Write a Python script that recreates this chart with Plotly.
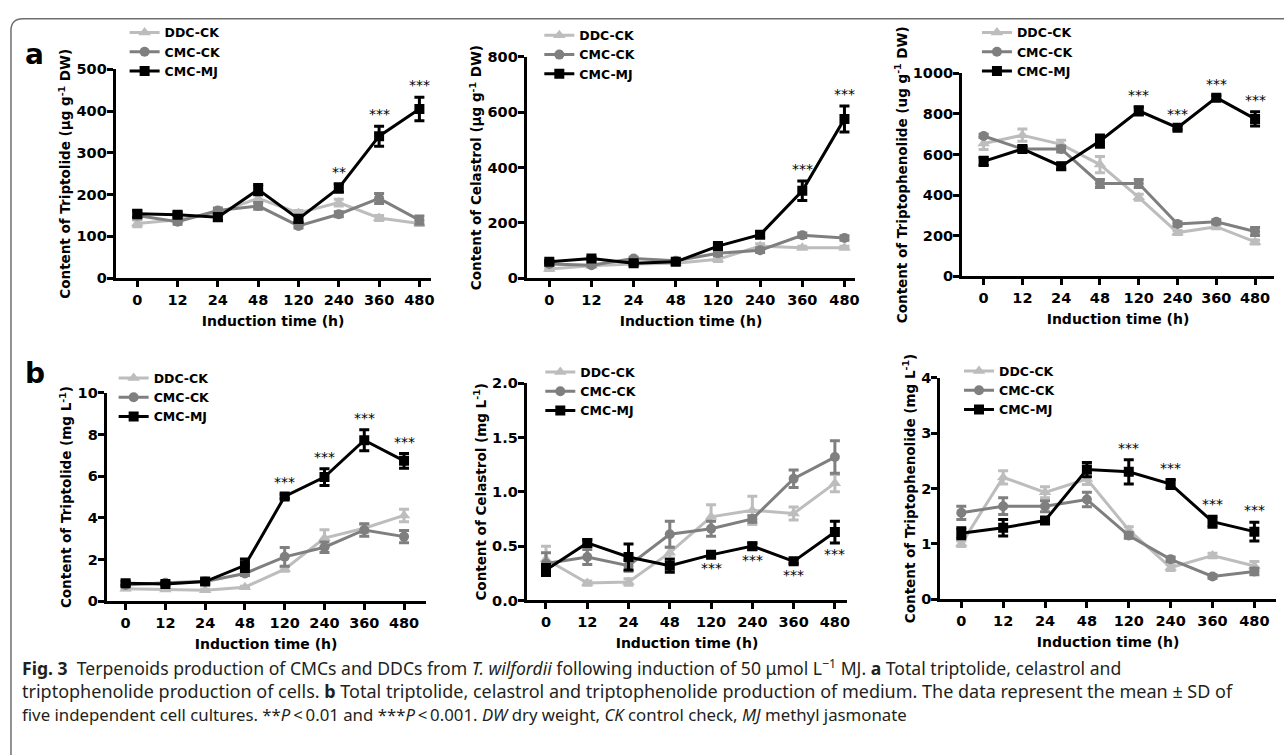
import plotly.graph_objects as go

W, H = 1284, 755

# ---------------- data ----------------
times = ["0", "12", "24", "48", "120", "240", "360", "480"]
series_names = ["DDC-CK", "CMC-CK", "CMC-MJ"]

# (a) cells
a1_ddc = [131, 140, 157, 191, 156, 181, 144, 131]
a1_ddc_sd = [8, 6, 6, 10, 6, 8, 6, 5]
a1_cmc = [150, 135, 162, 173, 125, 153, 191, 139]
a1_cmc_sd = [8, 6, 6, 8, 5, 6, 12, 10]
a1_mj = [154, 152, 146, 212, 142, 216, 340, 405]
a1_mj_sd = [8, 6, 8, 12, 8, 10, 24, 28]
a1_stars = ["", "", "", "", "", "**", "***", "***"]

a2_ddc = [33, 45, 51, 54, 68, 116, 110, 110]
a2_ddc_sd = [5, 5, 5, 5, 8, 8, 5, 5]
a2_cmc = [51, 47, 71, 63, 90, 101, 155, 145]
a2_cmc_sd = [5, 5, 5, 5, 8, 8, 8, 8]
a2_mj = [59, 71, 54, 59, 116, 157, 316, 576]
a2_mj_sd = [5, 5, 5, 5, 8, 10, 35, 47]
a2_stars = ["", "", "", "", "", "", "***", "***"]

a3_ddc = [654, 695, 650, 550, 389, 215, 244, 169]
a3_ddc_sd = [30, 30, 20, 40, 15, 10, 10, 10]
a3_cmc = [691, 627, 627, 457, 457, 257, 268, 220]
a3_cmc_sd = [8, 15, 15, 20, 20, 10, 10, 20]
a3_mj = [566, 627, 542, 666, 815, 732, 880, 775]
a3_mj_sd = [20, 10, 15, 30, 20, 10, 10, 35]
a3_stars = ["", "", "", "", "***", "***", "***", "***"]

# (b) medium
b1_ddc = [0.60, 0.56, 0.52, 0.67, 1.54, 3.03, 3.50, 4.12]
b1_ddc_sd = [0.05, 0.05, 0.05, 0.05, 0.10, 0.40, 0.20, 0.30]
b1_cmc = [0.78, 0.88, 0.94, 1.33, 2.13, 2.59, 3.42, 3.10]
b1_cmc_sd = [0.05, 0.05, 0.10, 0.10, 0.45, 0.25, 0.30, 0.30]
b1_mj = [0.86, 0.83, 0.94, 1.72, 5.03, 5.96, 7.73, 6.74]
b1_mj_sd = [0.10, 0.05, 0.10, 0.30, 0.10, 0.40, 0.50, 0.35]
b1_stars = ["", "", "", "", "***", "***", "***", "***"]

b2_ddc = [0.38, 0.16, 0.17, 0.44, 0.77, 0.83, 0.80, 1.08]
b2_ddc_sd = [0.12, 0.02, 0.03, 0.05, 0.11, 0.13, 0.06, 0.08]
b2_cmc = [0.34, 0.40, 0.32, 0.61, 0.66, 0.75, 1.12, 1.32]
b2_cmc_sd = [0.10, 0.07, 0.05, 0.12, 0.07, 0.03, 0.08, 0.15]
b2_mj = [0.28, 0.53, 0.40, 0.32, 0.42, 0.50, 0.36, 0.63]
b2_mj_sd = [0.05, 0.03, 0.12, 0.06, 0.02, 0.03, 0.02, 0.10]
b2_stars = ["", "", "", "", "***", "***", "***", "***"]

b3_ddc = [1.00, 2.20, 1.93, 2.17, 1.25, 0.57, 0.79, 0.60]
b3_ddc_sd = [0.05, 0.12, 0.10, 0.10, 0.06, 0.05, 0.04, 0.08]
b3_cmc = [1.56, 1.68, 1.68, 1.80, 1.15, 0.72, 0.41, 0.50]
b3_cmc_sd = [0.12, 0.15, 0.10, 0.13, 0.05, 0.04, 0.03, 0.06]
b3_mj = [1.19, 1.29, 1.42, 2.34, 2.30, 2.08, 1.40, 1.22]
b3_mj_sd = [0.10, 0.15, 0.05, 0.13, 0.22, 0.08, 0.10, 0.17]
b3_stars = ["", "", "", "", "***", "***", "***", "***"]

y_titles = [
    "Content of Triptolide (μg g<sup>-1</sup> DW)",
    "Content of Celastrol (μg g<sup>-1</sup> DW)",
    "Content of Triptophenolide (ug g<sup>-1</sup> DW)",
    "Content of Triptolide (mg L<sup>-1</sup>)",
    "Content of Celastrol (mg L<sup>-1</sup>)",
    "Content of Triptophenolide (mg L<sup>-1</sup>)",
]
x_title = "Induction time (h)"

# ---------------- styles ----------------
colors = ["#bdbdbd", "#7f7f7f", "#000000"]
symbols = ["triangle-up", "circle", "square"]
FONT = "DejaVu Sans"

# panel geometry (pixels): axis left, axis right, first tick x, tick spacing, bottom y, top y, ymax, dtick
geom = [
    dict(L=116, R=432, t0=137.7, sp=40.43, yb=276, yt=62.7, ymax=500, dt=100, fmt="d", stars_below=False, leg=(125, 10)),
    dict(L=528.3, R=858, t0=551, sp=42.3, yb=276, yt=50, ymax=800, dt=200, fmt="d", stars_below=False, leg=(541, 13)),
    dict(L=965, R=1278, t0=986.7, sp=38.9, yb=274, yt=66.7, ymax=1000, dt=200, fmt="d", stars_below=False, leg=(980, 10)),
    dict(L=107, R=427, t0=126, sp=39.9, yb=606, yt=393.3, ymax=10, dt=2, fmt="d", stars_below=False, leg=(114, 363)),
    dict(L=528.3, R=850, t0=547.7, sp=41.4, yb=605.3, yt=383.3, ymax=2.0, dt=0.5, fmt=".1f", stars_below=True, leg=(542, 357)),
    dict(L=943.3, R=1280, t0=964.3, sp=42, yb=604, yt=377.7, ymax=4, dt=1, fmt="d", stars_below=False, leg=(962, 356)),
]

panel_data = [
    ([a1_ddc, a1_cmc, a1_mj], [a1_ddc_sd, a1_cmc_sd, a1_mj_sd], a1_stars),
    ([a2_ddc, a2_cmc, a2_mj], [a2_ddc_sd, a2_cmc_sd, a2_mj_sd], a2_stars),
    ([a3_ddc, a3_cmc, a3_mj], [a3_ddc_sd, a3_cmc_sd, a3_mj_sd], a3_stars),
    ([b1_ddc, b1_cmc, b1_mj], [b1_ddc_sd, b1_cmc_sd, b1_mj_sd], b1_stars),
    ([b2_ddc, b2_cmc, b2_mj], [b2_ddc_sd, b2_cmc_sd, b2_mj_sd], b2_stars),
    ([b3_ddc, b3_cmc, b3_mj], [b3_ddc_sd, b3_cmc_sd, b3_mj_sd], b3_stars),
]

fig = go.Figure()
layout = dict(
    width=W, height=H,
    margin=dict(l=0, r=0, t=0, b=0),
    paper_bgcolor="white", plot_bgcolor="white",
    font=dict(family=FONT, size=13, color="black", weight=700),
    annotations=[], shapes=[],
)

for i, (g, (vals, sds, stars)) in enumerate(zip(geom, panel_data)):
    k = i + 1
    xa = "x" if k == 1 else f"x{k}"
    ya = "y" if k == 1 else f"y{k}"
    leg = "legend" if k == 1 else f"legend{k}"
    for j in range(3):
        fig.add_trace(go.Scatter(
            x=times, y=vals[j], name=series_names[j],
            mode="lines+markers",
            line=dict(color=colors[j], width=3),
            marker=dict(symbol=symbols[j], size=10 if j else 11, color=colors[j]),
            error_y=dict(type="data", array=sds[j], color=colors[j], thickness=3, width=5),
            xaxis=xa, yaxis=ya, legend=leg, showlegend=True,
        ))
    xr = [(g["L"] - g["t0"]) / g["sp"], (g["R"] - g["t0"]) / g["sp"]]
    layout["xaxis" if k == 1 else f"xaxis{k}"] = dict(
        domain=[g["L"] / W, g["R"] / W], anchor=ya, type="category",
        categoryorder="array", categoryarray=times,
        range=xr, showline=True, linewidth=3, linecolor="black",
        ticks="outside", ticklen=6, tickwidth=3, tickcolor="black",
        showgrid=False, zeroline=False,
        tickfont=dict(family=FONT, size=14.5, weight=700),
        title=dict(text=x_title, font=dict(family=FONT, size=14, weight=700), standoff=10),
    )
    layout["yaxis" if k == 1 else f"yaxis{k}"] = dict(
        domain=[1 - g["yb"] / H, 1 - g["yt"] / H], anchor=xa,
        range=[0, g["ymax"]], dtick=g["dt"], tick0=0,
        tickformat=g["fmt"],
        showline=True, linewidth=3, linecolor="black",
        ticks="outside", ticklen=6, tickwidth=3, tickcolor="black",
        ticklabelstandoff=-3,
        showgrid=False, zeroline=False,
        tickfont=dict(family=FONT, size=14.5, weight=700),
        title=dict(text=y_titles[i], font=dict(family=FONT, size=13.5, weight=700), standoff=3),
    )
    layout[leg] = dict(
        x=g["leg"][0] / W, y=1 - g["leg"][1] / H, xanchor="left", yanchor="top",
        xref="paper", yref="paper",
        bgcolor="rgba(0,0,0,0)", borderwidth=0, tracegroupgap=0,
        font=dict(family=FONT, size=12.5, weight=700, color="black"),
        itemwidth=30,
    )
    # significance stars (x given as category index)
    mj, mj_sd = vals[2], sds[2]
    for idx, (v, s, st) in enumerate(zip(mj, mj_sd, stars)):
        if not st:
            continue
        if g["stars_below"]:
            layout["annotations"].append(dict(
                x=idx, y=v - s, xref=xa, yref=ya, text=st, showarrow=False,
                yanchor="top", yshift=-1, font=dict(family=FONT, size=14, weight=400)))
        else:
            layout["annotations"].append(dict(
                x=idx, y=v + s, xref=xa, yref=ya, text=st, showarrow=False,
                yanchor="bottom", yshift=2, font=dict(family=FONT, size=14, weight=400)))

# panel letters
for lab, (px, py) in zip(["a", "b"], [(35, 48), (35, 373)]):
    layout["annotations"].append(dict(
        x=px / W, y=1 - py / H, xref="paper", yref="paper", text=lab, showarrow=False,
        xanchor="center", yanchor="middle", font=dict(family=FONT, size=28, weight=700)))

# caption
TS = "\u2009"
caption_lines = [
    "<b>Fig. 3</b>  Terpenoids production of CMCs and DDCs from <i>T. wilfordii</i> following induction of 50 μmol L<sup>−1</sup> MJ. <b>a</b> Total triptolide, celastrol and",
    "triptophenolide production of cells. <b>b</b> Total triptolide, celastrol and triptophenolide production of medium. The data represent the mean ± SD of",
    f"five independent cell cultures. **<i>P</i>{TS}&lt;{TS}0.01 and ***<i>P</i>{TS}&lt;{TS}0.001. <i>DW</i> dry weight, <i>CK</i> control check, <i>MJ</i> methyl jasmonate",
]
caption_sizes = [17.6, 18.0, 16.8]
for line, py, fs in zip(caption_lines, [674, 698, 722], caption_sizes):
    layout["annotations"].append(dict(
        x=20 / W, y=1 - py / H, xref="paper", yref="paper", text=line, showarrow=False,
        xanchor="left", yanchor="middle", align="left",
        font=dict(family="Noto Sans", size=fs, weight=400, color="#231f20")))

# rounded frame (only top and left edges are visible)
def P(x, y):
    return f"{x / W:.5f},{1 - y / H:.5f}"
frame = f"M {P(1300, 11)} L {P(23, 11)} Q {P(11, 11)} {P(11, 23)} L {P(11, 770)}"
layout["shapes"].append(dict(type="path", path=frame, xref="paper", yref="paper",
                             line=dict(color="#6f6f6f", width=1.5)))

fig.update_layout(**layout)
fig.write_html(
    "out.html",
    config={"displayModeBar": False},
    post_script="document.body.style.margin='0px';document.body.style.overflow='hidden';",
)
